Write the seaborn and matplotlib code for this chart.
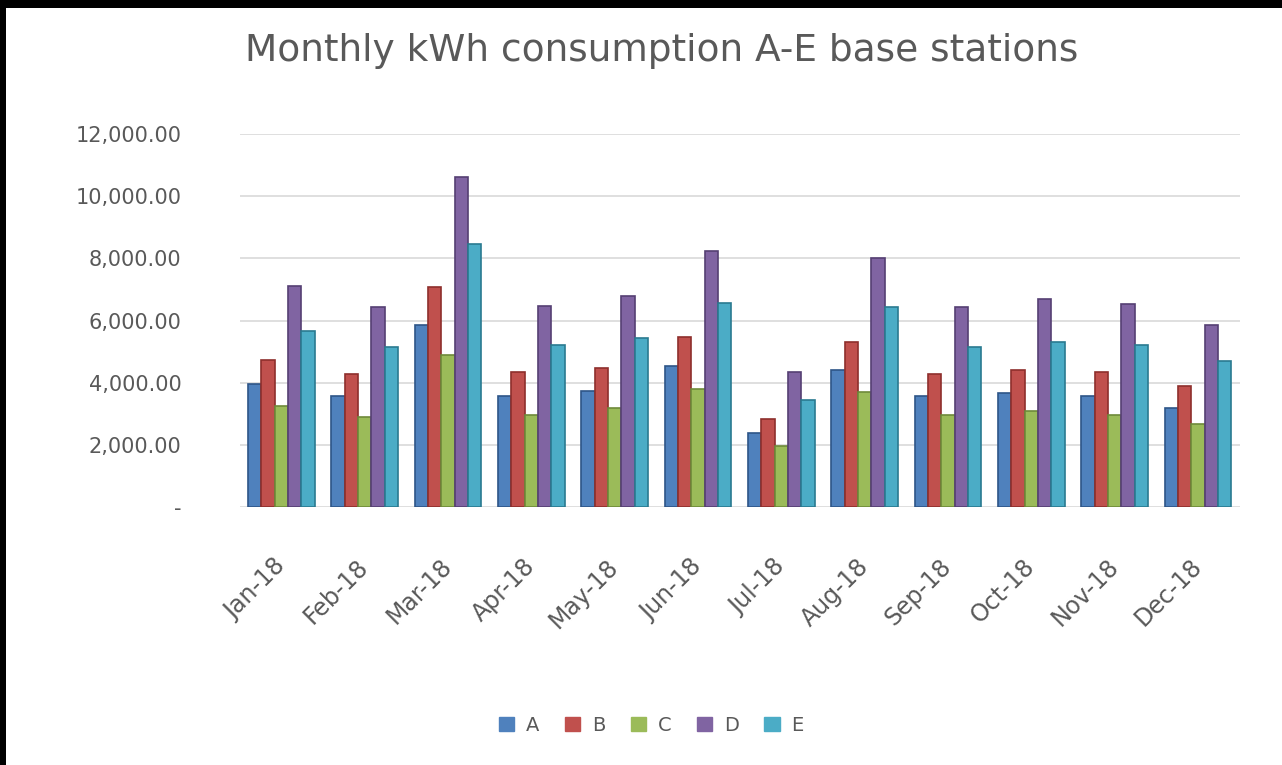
import matplotlib
matplotlib.use("Agg")
import matplotlib.pyplot as plt
import matplotlib.patches as mpatches
import seaborn as sns
import pandas as pd
import numpy as np

months = ["Jan-18", "Feb-18", "Mar-18", "Apr-18", "May-18", "Jun-18",
          "Jul-18", "Aug-18", "Sep-18", "Oct-18", "Nov-18", "Dec-18"]
stations = ["A", "B", "C", "D", "E"]
A = [3950, 3560, 5870, 3580, 3740, 4530, 2400, 4400, 3590, 3670, 3590, 3180]
B = [4740, 4290, 7080, 4330, 4470, 5470, 2830, 5310, 4290, 4400, 4340, 3880]
C = [3240, 2910, 4900, 2970, 3180, 3800, 1970, 3690, 2970, 3080, 2970, 2670]
D = [7110, 6430, 10600, 6460, 6790, 8240, 4340, 8000, 6430, 6680, 6520, 5850]
E = [5660, 5150, 8450, 5200, 5440, 6550, 3430, 6430, 5150, 5310, 5200, 4690]
colors = ["#4F81BD", "#C0504D", "#9BBB59", "#8064A2", "#4BACC6"]
edges = ["#2E5588", "#8E2F2C", "#6E8A3A", "#553F73", "#2A7A90"]

series = {"A": A, "B": B, "C": C, "D": D, "E": E}
df = pd.DataFrame([(m, s, series[s][i]) for s in stations for i, m in enumerate(months)],
                  columns=["month", "station", "kwh"])

sns.set_style("white")
plt.rcParams['font.family'] = ['DejaVu Sans']

fig = plt.figure(figsize=(12.82, 7.65), dpi=100)
fig.patch.set_facecolor("white")
ax = fig.add_axes([0.187, 0.337, 0.780, 0.488])

sns.barplot(data=df, x="month", y="kwh", hue="station", order=months,
            hue_order=stations, palette=colors, width=0.8, gap=0,
            saturation=1, ax=ax, legend=False, errorbar=None)

# dark 3D-like edges
for i, cont in enumerate(ax.containers):
    for p in cont:
        p.set_edgecolor(edges[i])
        p.set_linewidth(1.2)

ax.set_ylim(0, 12000)
ax.set_xlim(-0.5, 11.5)
ticks = [0, 2000, 4000, 6000, 8000, 10000, 12000]
ax.set_yticks(ticks)
ax.set_yticklabels(["-"] + [f"{t:,.2f}" for t in ticks[1:]])
ax.yaxis.grid(True, color="#D9D9D9", linewidth=1.2)
ax.set_axisbelow(True)
for s in ax.spines.values():
    s.set_visible(False)
ax.tick_params(axis="y", length=0, pad=42, labelsize=15, labelcolor="#595959")
ax.tick_params(axis="x", length=0, pad=40, labelsize=17, labelcolor="#595959")
plt.setp(ax.get_xticklabels(), rotation=45, ha="right", va="center",
         rotation_mode="anchor")
ax.set_xlabel("")
ax.set_ylabel("")

fig.text(0.516, 0.933, "Monthly kWh consumption A-E base stations",
         ha="center", va="center", fontsize=27, color="#595959")

handles = [mpatches.Patch(facecolor=c, edgecolor=c, label=s) for c, s in zip(colors, stations)]
fig.legend(handles=handles, loc="center", bbox_to_anchor=(0.508, 0.052), ncol=5,
           frameon=False, fontsize=14, labelcolor="#595959", handlelength=0.8,
           handleheight=0.8, handletextpad=0.6, columnspacing=1.3)

# black border strips (top and left) as in the reference screenshot
fig.patches.append(mpatches.Rectangle((0, 1 - 8 / 765), 1, 8 / 765, transform=fig.transFigure,
                                      facecolor="black", edgecolor="none", zorder=10))
fig.patches.append(mpatches.Rectangle((0, 0), 6 / 1282, 1, transform=fig.transFigure,
                                      facecolor="black", edgecolor="none", zorder=10))

fig.savefig("out.png", dpi=100, facecolor="white")
